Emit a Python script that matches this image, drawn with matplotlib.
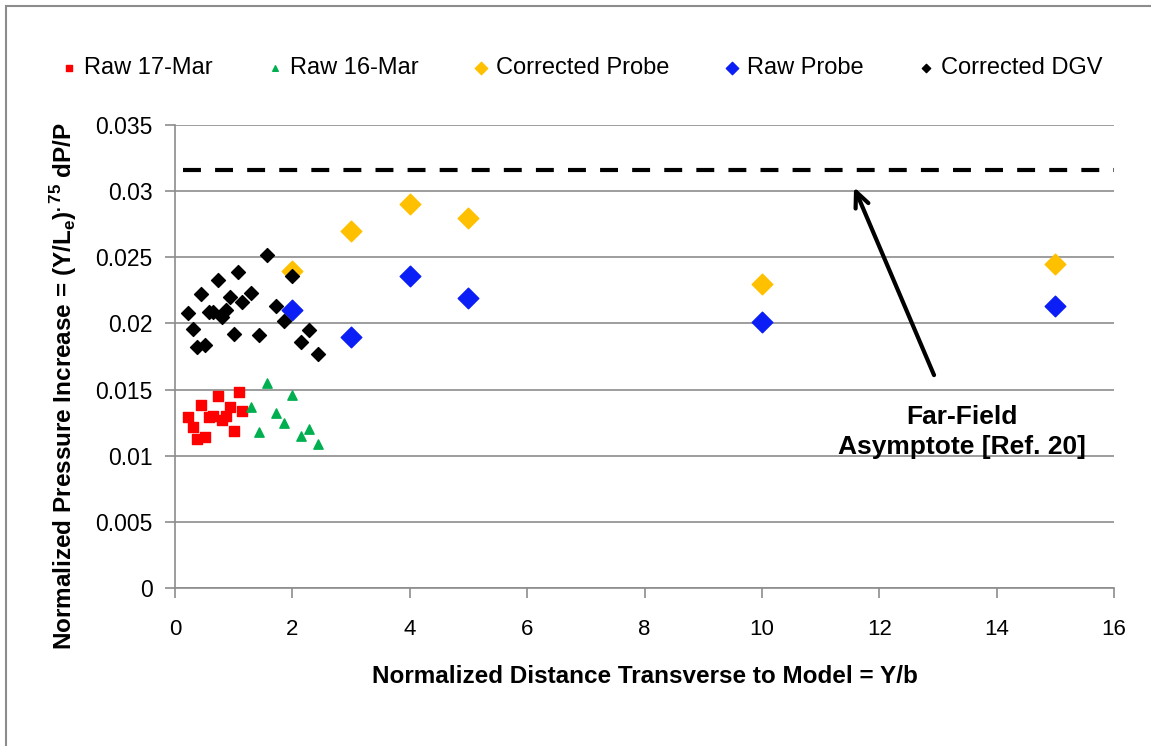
import matplotlib
matplotlib.use("Agg")
import matplotlib.pyplot as plt
from matplotlib.patches import Rectangle

plt.rcParams['font.family'] = ['Liberation Sans', 'DejaVu Sans']
plt.rcParams['mathtext.fontset'] = 'custom'
plt.rcParams['mathtext.rm'] = 'Liberation Sans'
plt.rcParams['mathtext.bf'] = 'Liberation Sans:bold'

# data
raw17_x = [0.23, 0.30, 0.37, 0.52, 0.44, 0.73, 0.58, 0.65, 0.80, 0.87, 0.94, 1.01, 1.09, 1.15]
raw17_y = [0.0129, 0.0122, 0.0113, 0.0114, 0.0138, 0.0145, 0.0129, 0.0130, 0.0127, 0.0130,
           0.0137, 0.0119, 0.0148, 0.0134]

raw16_x = [1.57, 2.00, 1.29, 1.72, 1.86, 1.43, 2.29, 2.15, 2.43]
raw16_y = [0.0155, 0.0146, 0.0137, 0.0132, 0.0125, 0.0118, 0.0120, 0.0115, 0.0109]

corr_probe_x = [2, 3, 4, 5, 10, 15]
corr_probe_y = [0.0240, 0.0270, 0.0290, 0.0280, 0.0230, 0.0245]

raw_probe_x = [2, 3, 4, 5, 10, 15]
raw_probe_y = [0.0210, 0.0190, 0.0236, 0.0219, 0.0201, 0.0213]

dgv_x = [1.57, 1.08, 0.73, 0.44, 0.94, 1.29, 1.15, 0.23, 0.58, 0.65, 0.87, 0.80, 1.72, 2.00,
         1.86, 0.30, 1.01, 1.43, 2.29, 0.37, 0.52, 2.15, 2.43]
dgv_y = [0.0252, 0.0239, 0.0233, 0.0222, 0.0220, 0.0223, 0.0216, 0.0208, 0.0209, 0.0209,
         0.0210, 0.0205, 0.0213, 0.0236, 0.0202, 0.0196, 0.0192, 0.0191, 0.0195, 0.0182,
         0.0184, 0.0186, 0.0177]

asymptote_x = [0.14, 16]
asymptote_y = [0.0316, 0.0316]

fig = plt.figure(figsize=(11.51, 7.46), dpi=100)
fig.patches.append(Rectangle((6 / 1151, -0.1), 1.2, 1.1 - 6 / 746, transform=fig.transFigure,
                             fill=False, edgecolor='#8c8c8c', linewidth=1.5))
ax = fig.add_axes([0.152, 0.2118, 0.816, 0.6206])

ax.plot(asymptote_x, asymptote_y, color='black', linestyle=(0, (4.3, 3.4)), linewidth=3, zorder=2)

ax.scatter(raw17_x, raw17_y, marker='s', s=55, color='#ff0000', label='Raw 17-Mar', zorder=3)
ax.scatter(raw16_x, raw16_y, marker='^', s=45, color='#00b050', label='Raw 16-Mar', zorder=3)
ax.scatter(corr_probe_x, corr_probe_y, marker='D', s=110, color='#ffc000', label='Corrected Probe', zorder=3)
ax.scatter(raw_probe_x, raw_probe_y, marker='D', s=110, color='#0a1ef5', label='Raw Probe', zorder=3)
ax.scatter(dgv_x, dgv_y, marker='D', s=50, color='black', label='Corrected DGV', zorder=4)

ax.annotate('', xy=(11.55, 0.0305), xytext=(12.95, 0.0159),
            arrowprops=dict(arrowstyle='->,head_length=1.1,head_width=0.5', color='black', lw=3))
ax.text(13.4, 0.0118, 'Far-Field\nAsymptote [Ref. 20]', ha='center', va='center',
        fontsize=19, fontweight='bold', linespacing=1.3)

ax.set_xlim(0, 16)
ax.set_ylim(0, 0.035)
ax.set_xticks(range(0, 17, 2))
ax.set_yticks([0, 0.005, 0.01, 0.015, 0.02, 0.025, 0.03, 0.035])
ax.set_yticklabels(['0', '0.005', '0.01', '0.015', '0.02', '0.025', '0.03', '0.035'])
ax.tick_params(colors='#8c8c8c', labelcolor='black', length=7, width=1.2)
ax.tick_params(axis='y', labelsize=16.5, pad=9)
ax.tick_params(axis='x', labelsize=16, pad=15)
ax.grid(axis='y', color='#8c8c8c', linewidth=1.2)
ax.set_axisbelow(True)
for side in ['top', 'right']:
    ax.spines[side].set_visible(False)
for side in ['left', 'bottom']:
    ax.spines[side].set_color('#8c8c8c')
    ax.spines[side].set_linewidth(1.2)

ax.set_xlabel('Normalized Distance Transverse to Model = Y/b', fontsize=17.5, fontweight='bold', labelpad=18)
ax.set_ylabel(r'Normalized Pressure Increase = (Y/L$_{\mathregular{e}}$)$^{\mathregular{.75}}$ dP/P',
              fontsize=17.5, fontweight='bold')
ax.yaxis.set_label_coords(-0.102, 0.436)

fig.legend(loc='center', bbox_to_anchor=(0.506, 0.909), ncol=5, frameon=False, fontsize=17,
           markerscale=0.6, handlelength=0.6, handletextpad=0.35, columnspacing=2.33, scatterpoints=1)

fig.savefig('out.png', dpi=100)
